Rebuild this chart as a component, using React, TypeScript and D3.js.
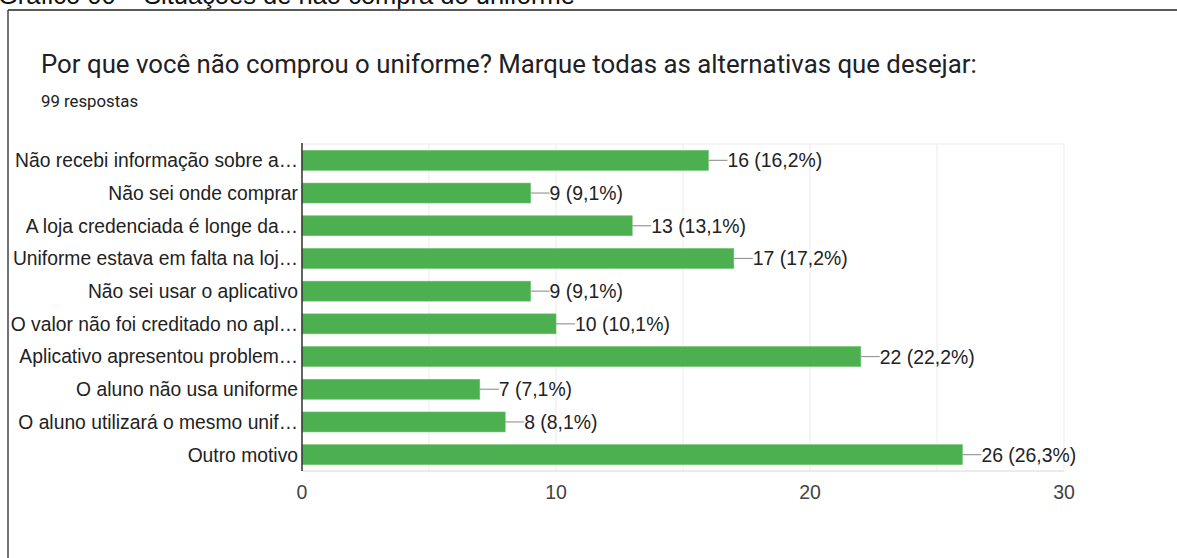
import React from "react";
import * as d3 from "d3";

const categories: string[] = [
  "Não recebi informação sobre a…",
  "Não sei onde comprar",
  "A loja credenciada é longe da…",
  "Uniforme estava em falta na loj…",
  "Não sei usar o aplicativo",
  "O valor não foi creditado no apl…",
  "Aplicativo apresentou problem…",
  "O aluno não usa uniforme",
  "O aluno utilizará o mesmo unif…",
  "Outro motivo",
];
const counts: number[] = [16, 9, 13, 17, 9, 10, 22, 7, 8, 26];
const percents: string[] = ["16,2%", "9,1%", "13,1%", "17,2%", "9,1%", "10,1%", "22,2%", "7,1%", "8,1%", "26,3%"];
const majorTicks: number[] = [0, 10, 20, 30];
const gridTicks: number[] = [0, 5, 10, 15, 20, 25, 30];

const W = 1177;
const H = 558;
const plotLeft = 302;
const plotRight = 1064;
const plotTop = 144;
const plotBottom = 471;

export default function App() {
  const x = d3.scaleLinear().domain([0, 30]).range([plotLeft, plotRight]);
  const y = d3
    .scaleBand<string>()
    .domain(categories)
    .range([plotTop, plotBottom])
    .paddingInner(0.39)
    .paddingOuter(0.195);
  const font = "'Liberation Sans', Arial, sans-serif";
  return (
    <div style={{ position: "fixed", left: 0, top: 0, width: W, height: H, background: "#fff" }}>
      <svg width={W} height={H} style={{ display: "block" }}>
        <rect width={W} height={H} fill="#fff" />
        <text x={-2} y={4} fontFamily={font} fontSize={25.5} fill="#111">
          Gráfico 00 – Situações de não compra do uniforme
        </text>
        <line x1={8} x2={W} y1={10} y2={10} stroke="#222" strokeWidth={1.5} />
        <line x1={8} x2={8} y1={10} y2={H} stroke="#444" strokeWidth={1.5} />
        <text x={41} y={73} fontFamily="Roboto, sans-serif" fontSize={25.8} fill="#202124">
          Por que você não comprou o uniforme? Marque todas as alternativas que desejar:
        </text>
        <text x={41} y={107} fontFamily="Roboto, sans-serif" fontSize={16.8} fill="#202124">
          99 respostas
        </text>
        {gridTicks.map((t) => (
          <line key={"g" + t} x1={x(t)} x2={x(t)} y1={plotTop} y2={plotBottom} stroke="#ebebeb" strokeWidth={1} />
        ))}
        <line x1={plotLeft} x2={plotRight} y1={plotTop} y2={plotTop} stroke="#ebebeb" />
        <line x1={plotLeft} x2={plotRight} y1={plotBottom} y2={plotBottom} stroke="#ebebeb" strokeWidth={2} />
        {categories.map((c, i) => {
          const by = y(c)!;
          const bh = y.bandwidth();
          const xe = x(counts[i]);
          return (
            <g key={c}>
              <rect x={plotLeft} y={by} width={xe - plotLeft} height={bh} fill="#4caf50" stroke="#6cc070" strokeWidth={0.6} />
              <line x1={xe} x2={xe + 19} y1={by + bh / 2} y2={by + bh / 2} stroke="#999" strokeWidth={1.2} />
              <text x={xe + 19} y={by + bh / 2} dy="0.36em" fontFamily={font} fontSize={19.4} fill="#222">
                {`${counts[i]} (${percents[i]})`}
              </text>
              <text x={plotLeft - 4} y={by + bh / 2} dy="0.36em" textAnchor="end" fontFamily={font} fontSize={19.3} fill="#222">
                {c}
              </text>
            </g>
          );
        })}
        <line x1={plotLeft} x2={plotLeft} y1={plotTop - 1} y2={plotBottom} stroke="#333" strokeWidth={1.5} />
        {majorTicks.map((t) => (
          <text key={"t" + t} x={x(t)} y={499} textAnchor="middle" fontFamily={font} fontSize={19.5} fill="#444">
            {t}
          </text>
        ))}
      </svg>
    </div>
  );
}
